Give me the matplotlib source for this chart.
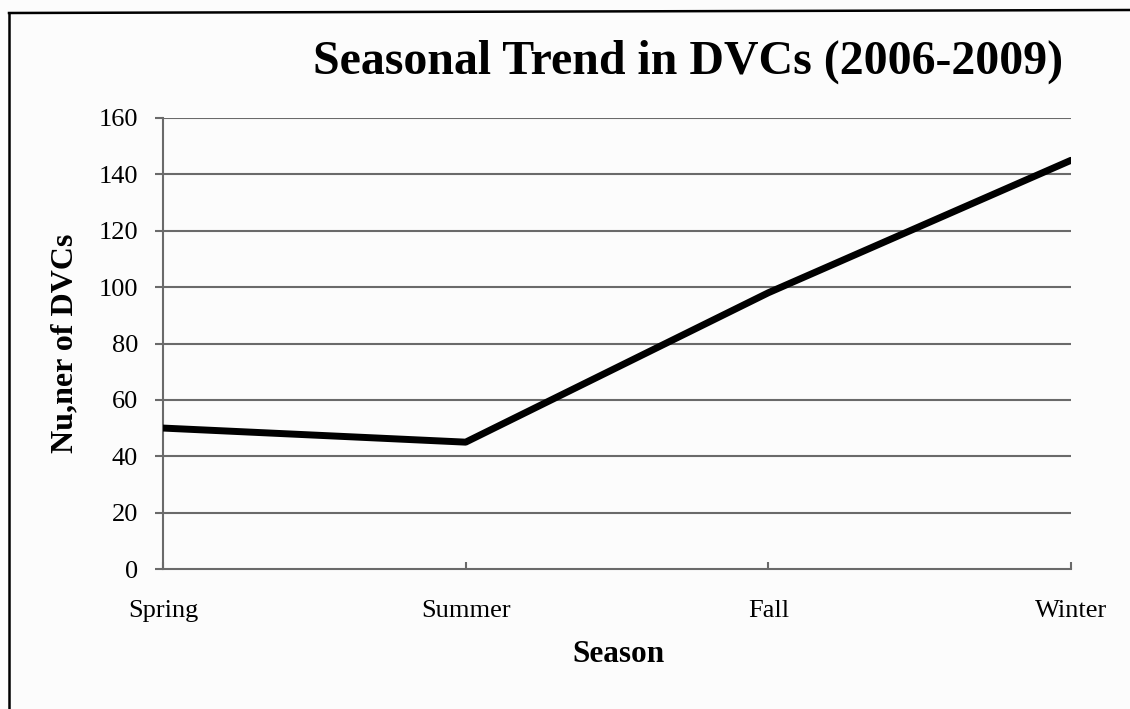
import matplotlib
matplotlib.use("Agg")
import matplotlib.pyplot as plt
from matplotlib.lines import Line2D

plt.rcParams['font.family'] = ['Liberation Serif', 'DejaVu Serif']

# seasonal deer-vehicle collision counts
seasons = ['Spring', 'Summer', 'Fall', 'Winter']
dvc_counts = [50, 45, 98, 145]
y_ticks = [0, 20, 40, 60, 80, 100, 120, 140, 160]

fig = plt.figure(figsize=(11.3, 7.09), dpi=100, facecolor='#fcfcfc')
ax = fig.add_axes([163 / 1130, 1 - 569 / 709, (1071 - 163) / 1130, (569 - 118) / 709])
ax.set_facecolor('none')

x = list(range(len(seasons)))
ax.plot(x, dvc_counts, color='black', lw=5, solid_capstyle='round', zorder=3)

ax.set_xlim(0, len(seasons) - 1)
ax.set_ylim(0, 160)
ax.set_yticks(y_ticks)
ax.set_xticks(x)
ax.set_xticklabels(seasons)

grid_col = '#6a6a6a'
for v in y_ticks[1:]:
    ax.axhline(v, color=grid_col, lw=1.5, zorder=1)

for side in ['top', 'right']:
    ax.spines[side].set_visible(False)
for side in ['left', 'bottom']:
    ax.spines[side].set_color(grid_col)
    ax.spines[side].set_linewidth(1.5)

ax.tick_params(axis='y', direction='out', length=6, width=1.5, color=grid_col,
               pad=12, labelsize=19)
ax.tick_params(axis='x', direction='in', length=5, width=1.5, color=grid_col,
               pad=22, labelsize=19)

fig.text(618 / 1130, 1 - 655 / 709, 'Season', ha='center', va='center',
         fontsize=22.5, fontweight='bold')
fig.text(65 / 1130, 1 - 343 / 709, 'Nu,ner of DVCs', ha='center', va='center',
         rotation=90, fontsize=23, fontweight='bold')
fig.text(688 / 1130, 1 - 62 / 709, 'Seasonal Trend in DVCs (2006-2009)',
         ha='center', va='center', fontsize=34.5, fontweight='bold')

# chart frame (left and top edges)
fig.add_artist(Line2D([9 / 1130, 9 / 1130], [0, 1 - 13 / 709], color='black', lw=1.8,
                      transform=fig.transFigure))
fig.add_artist(Line2D([9 / 1130, 1], [1 - 13 / 709, 1 - 10 / 709], color='black', lw=1.8,
                      transform=fig.transFigure))

fig.savefig('out.png', dpi=100, facecolor=fig.get_facecolor())
